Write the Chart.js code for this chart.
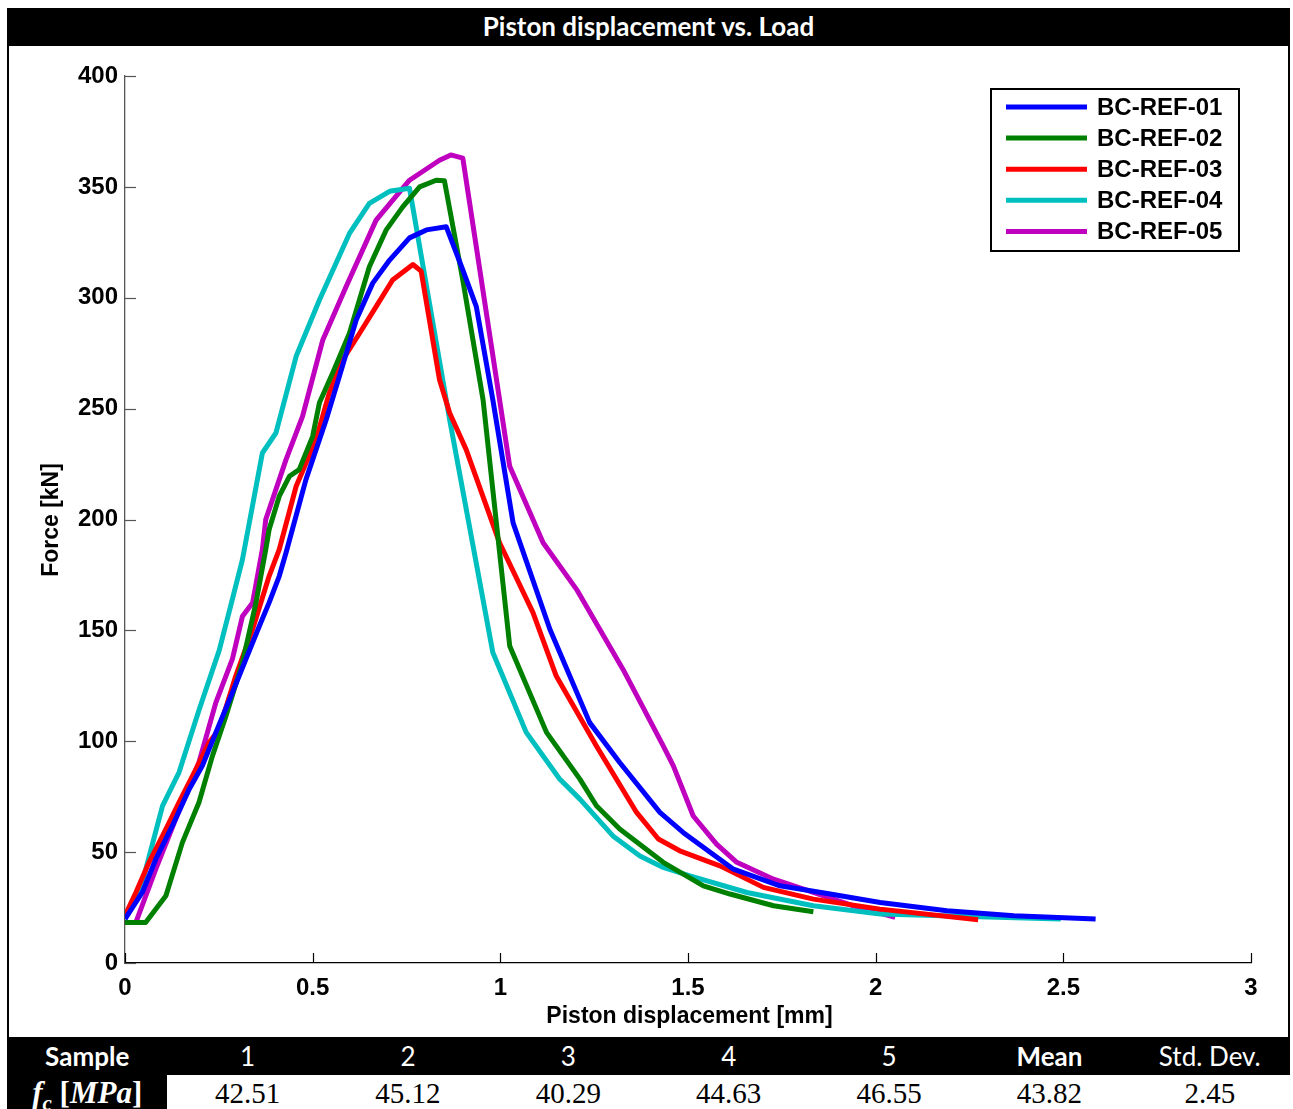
<!DOCTYPE html>
<html><head><meta charset="utf-8">
<script src="https://cdn.jsdelivr.net/npm/chart.js@4.4.0/dist/chart.umd.min.js"></script>
<style>
html,body{margin:0;padding:0;background:#fff;width:1293px;height:1109px;overflow:hidden;}
#frame{position:absolute;left:7px;top:8px;width:1283px;height:1110px;border:2px solid #000;box-sizing:border-box;}
#title{position:absolute;left:7px;top:8px;width:1283px;height:38px;background:#000;color:#fff;font:bold 26px Lato, sans-serif;text-align:center;line-height:37px;}
#wrap{position:absolute;left:9px;top:46px;width:1279px;height:991px;}
.row{position:absolute;left:7px;width:1283px;display:flex;}
.cell{flex:0 0 auto;width:160.375px;text-align:center;white-space:nowrap;}
#r1{top:1037px;height:38px;background:#000;color:#fff;font:26px Lato,sans-serif;line-height:38px;}
#r1 .b{font-weight:bold;}
#r2{top:1075px;height:36px;background:#fff;color:#000;font:29px "Liberation Serif",serif;line-height:36px;}
#r2 .hd{background:#000;color:#fff;font-weight:bold;font-size:31px;}
#r2 sub{font-size:21px;line-height:0;}
</style>
</head><body>
<div id="frame"></div>
<div id="title">Piston displacement vs. Load</div>
<div id="wrap"><canvas id="c" width="1279" height="991" style="width:1279px;height:991px"></canvas></div>
<div id="r1" class="row"></div>
<div id="r2" class="row"></div>
<script>
// ---- data ----
const xTickValues = [0, 0.5, 1, 1.5, 2, 2.5, 3];
const xTickLabels = ['0', '0.5', '1', '1.5', '2', '2.5', '3'];
const yTickValues = [0, 50, 100, 150, 200, 250, 300, 350, 400];
const yTickLabels = ['0', '50', '100', '150', '200', '250', '300', '350', '400'];
const seriesLabels = ['BC-REF-01', 'BC-REF-02', 'BC-REF-03', 'BC-REF-04', 'BC-REF-05'];

const ref01X = [0, 0.046, 0.082, 0.126, 0.171, 0.206, 0.242, 0.286, 0.322, 0.358, 0.384, 0.411, 0.429, 0.482, 0.536, 0.571, 0.616, 0.66, 0.705, 0.758, 0.803, 0.856, 0.9, 0.936, 0.98, 1.034, 1.132, 1.238, 1.318, 1.425, 1.487, 1.559, 1.621, 1.745, 1.879, 2.012, 2.19, 2.368, 2.586];
const ref01Y = [19.8, 31.8, 46.8, 61.8, 78.4, 88.9, 103.9, 121.9, 137, 152, 162.5, 174.5, 185, 218, 245, 264.5, 290, 306.6, 317, 327, 330.6, 332, 312.6, 296, 254, 198.5, 150.5, 108.4, 90.4, 67.9, 58.9, 49.9, 42.3, 34.8, 31.1, 27.3, 23.6, 21.3, 19.8];

const ref02X = [0, 0.055, 0.109, 0.153, 0.197, 0.233, 0.269, 0.313, 0.349, 0.375, 0.384, 0.411, 0.438, 0.464, 0.5, 0.518, 0.553, 0.598, 0.651, 0.696, 0.74, 0.785, 0.829, 0.851, 0.9, 0.954, 1.025, 1.123, 1.212, 1.256, 1.318, 1.434, 1.541, 1.612, 1.728, 1.834];
const ref02Y = [18.3, 18.3, 30.3, 54.4, 72.4, 93.4, 111.4, 135.5, 162.5, 186.5, 195.5, 210.5, 219.5, 222.5, 237.5, 252.6, 266, 284, 314, 330.6, 341, 350, 353, 352.8, 308, 254, 143, 104, 82.9, 70.9, 60.4, 45.4, 34.8, 31.1, 25.8, 23.1];

const ref03X = [0, 0.029, 0.064, 0.109, 0.144, 0.189, 0.224, 0.251, 0.295, 0.34, 0.384, 0.411, 0.456, 0.509, 0.544, 0.58, 0.625, 0.669, 0.713, 0.767, 0.789, 0.838, 0.865, 0.909, 0.998, 1.087, 1.149, 1.256, 1.363, 1.421, 1.478, 1.585, 1.701, 1.834, 2.012, 2.273];
const ref03Y = [21.3, 31.8, 45.4, 60.4, 72.4, 87.4, 99.4, 105.4, 129.4, 150.5, 174.5, 186.5, 215, 236, 257, 272, 284, 296, 308, 315, 312, 263, 248, 231.5, 189.5, 158, 129.4, 97.9, 67.9, 55.9, 50.6, 43.8, 34.1, 28.8, 24.3, 19.5];

const ref04X = [0, 0.046, 0.1, 0.144, 0.197, 0.251, 0.286, 0.313, 0.366, 0.402, 0.456, 0.518, 0.598, 0.651, 0.705, 0.758, 0.865, 0.98, 1.069, 1.158, 1.212, 1.3, 1.372, 1.434, 1.505, 1.657, 1.834, 2.012, 2.493];
const ref04Y = [20, 36.3, 70.9, 86, 114, 141, 164, 182, 230, 239, 273.6, 299, 329, 342.6, 348, 349.4, 245, 140, 104, 83, 73.9, 57.3, 48.3, 43.1, 39.3, 31.8, 25.8, 22.1, 19.8];

const ref05X = [0, 0.029, 0.082, 0.135, 0.197, 0.242, 0.286, 0.313, 0.34, 0.366, 0.375, 0.429, 0.473, 0.527, 0.589, 0.669, 0.758, 0.838, 0.868, 0.9, 1.025, 1.114, 1.203, 1.327, 1.434, 1.461, 1.514, 1.576, 1.63, 1.728, 1.834, 1.941, 2.052];
const ref05Y = [18.3, 18.3, 42.3, 64.9, 90.4, 117.4, 137, 156.4, 162.5, 186.5, 200, 227, 246.5, 281, 305, 335, 353, 362, 364.4, 363, 224, 189.5, 168.5, 132.4, 97.9, 88.9, 66.3, 53.6, 45.4, 37.8, 31.8, 25.8, 20.6];

const tableHeaders = ['Sample', '1', '2', '3', '4', '5', 'Mean', 'Std. Dev.'];
const fcValues = ['42.51', '45.12', '40.29', '44.63', '46.55', '43.82', '2.45'];
const xAxisTitle = 'Piston displacement [mm]';
const yAxisTitle = 'Force [kN]';

// ---- table ----
const r1 = document.getElementById('r1');
tableHeaders.forEach((t, i) => {
  const d = document.createElement('div');
  d.className = 'cell' + ((t === 'Sample' || t === 'Mean') ? ' b' : '');
  d.textContent = t;
  r1.appendChild(d);
});
const r2 = document.getElementById('r2');
const hd = document.createElement('div');
hd.className = 'cell hd';
hd.innerHTML = '<i>f</i><sub><i>c</i></sub> [<i>MPa</i>]';
r2.appendChild(hd);
fcValues.forEach(v => {
  const d = document.createElement('div');
  d.className = 'cell';
  d.textContent = v;
  r2.appendChild(d);
});

// ---- chart ----
const colors = ['#0000ff', '#008000', '#ff0000', '#00bfbf', '#bf00bf'];
const xs = [ref01X, ref02X, ref03X, ref04X, ref05X];
const ys = [ref01Y, ref02Y, ref03Y, ref04Y, ref05Y];
const datasets = seriesLabels.map((lab, k) => ({
  label: lab,
  data: xs[k].map((x, i) => ({ x: x, y: ys[k][i] })),
  borderColor: colors[k],
  backgroundColor: colors[k],
  borderWidth: 5,
  pointRadius: 0,
  showLine: true,
  tension: 0,
  borderJoinStyle: 'round',
  fill: false
}));

const FONT = '"Liberation Sans", Arial, sans-serif';

const decor = {
  id: 'decor',
  afterDraw(chart) {
    const ctx = chart.ctx;
    const xs_ = chart.scales.x, ys_ = chart.scales.y;
    const a = chart.chartArea;
    ctx.save();
    // inward tick marks
    ctx.lineWidth = 1.2;
    ctx.strokeStyle = '#000';
    xTickValues.forEach(v => {
      const p = Math.round(xs_.getPixelForValue(v)) + 0.5;
      ctx.beginPath(); ctx.moveTo(p, a.bottom); ctx.lineTo(p, a.bottom - 10); ctx.stroke();
    });
    ctx.strokeStyle = '#555';
    yTickValues.forEach(v => {
      const p = Math.round(ys_.getPixelForValue(v)) + 0.5;
      ctx.beginPath(); ctx.moveTo(a.left, p); ctx.lineTo(a.left + 11, p); ctx.stroke();
    });
    // axis titles
    ctx.fillStyle = '#000';
    ctx.font = 'bold 23px ' + FONT;
    ctx.textAlign = 'center';
    ctx.textBaseline = 'middle';
    ctx.fillText(xAxisTitle, 680.5, 971);
    ctx.save();
    ctx.translate(42.5, 474);
    ctx.rotate(-Math.PI / 2);
    ctx.fillText(yAxisTitle, 0, 0);
    ctx.restore();
    // legend
    const bx = 982, by = 43, bw = 248, bh = 162;
    ctx.fillStyle = '#fff';
    ctx.fillRect(bx, by, bw, bh);
    ctx.strokeStyle = '#000';
    ctx.lineWidth = 2;
    ctx.strokeRect(bx, by, bw, bh);
    ctx.textAlign = 'left';
    chart.data.datasets.forEach((ds, i) => {
      const yy = by + 18 + i * 31.1;
      ctx.strokeStyle = ds.borderColor;
      ctx.lineWidth = 5;
      ctx.beginPath(); ctx.moveTo(bx + 15, yy); ctx.lineTo(bx + 96, yy); ctx.stroke();
      ctx.fillStyle = '#000';
      ctx.font = 'bold 24px ' + FONT;
      ctx.fillText(ds.label, bx + 106, yy + 1);
    });
    ctx.restore();
  }
};

new Chart(document.getElementById('c'), {
  type: 'scatter',
  data: { datasets: datasets },
  options: {
    responsive: false,
    animation: false,
    layout: { padding: { top: 30, right: 37, left: 0, bottom: 0 } },
    plugins: { legend: { display: false }, tooltip: { enabled: false }, title: { display: false } },
    scales: {
      x: {
        type: 'linear', min: 0, max: 3,
        afterBuildTicks: s => { s.ticks = xTickValues.map(v => ({ value: v })); },
        afterFit: s => { s.height = 74; },
        border: { display: true, color: '#000', width: 1.3 },
        grid: { display: true, drawOnChartArea: false, drawTicks: false },
        ticks: {
          padding: 11, color: '#000', maxRotation: 0, autoSkip: false,
          font: { family: FONT, size: 24, weight: 'bold' },
          callback: (v, i) => xTickLabels[i]
        }
      },
      y: {
        type: 'linear', min: 0, max: 400,
        afterBuildTicks: s => { s.ticks = yTickValues.map(v => ({ value: v })); },
        afterFit: s => { s.width = 116; },
        border: { display: true, color: '#555', width: 1.3 },
        grid: { display: true, drawOnChartArea: false, drawTicks: false },
        ticks: {
          padding: 7, color: '#000', autoSkip: false,
          font: { family: FONT, size: 24, weight: 'bold' },
          callback: (v, i) => yTickLabels[i]
        }
      }
    }
  },
  plugins: [decor]
});
</script>
</body></html>
